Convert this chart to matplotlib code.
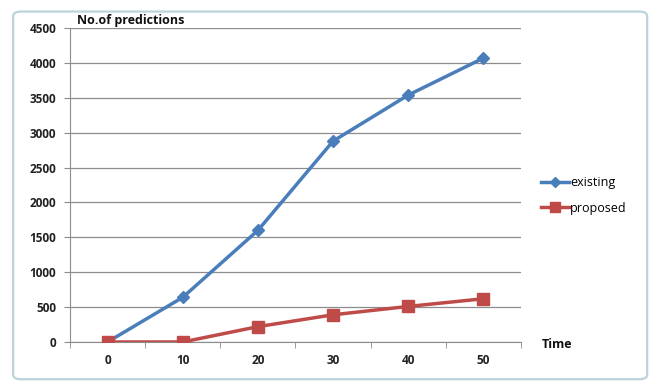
import matplotlib
matplotlib.use("Agg")
import matplotlib.pyplot as plt
from matplotlib.patches import FancyBboxPatch
import numpy as np

plt.rcParams["font.family"] = ["Open Sans", "DejaVu Sans"]

time_labels = ["0", "10", "20", "30", "40", "50"]
existing = [0, 640, 1600, 2880, 3540, 4070]
proposed = [0, 0, 220, 390, 510, 620]

BLUE = "#4A7EBB"
RED = "#BE4B48"
GRID = "#8C8C8C"

fig = plt.figure(figsize=(6.57, 3.85), dpi=100)
fig.patch.set_facecolor("white")

# chart frame
frame = FancyBboxPatch((0.02, 0.015), 0.965, 0.955, boxstyle="round,pad=0,rounding_size=0.012",
                       transform=fig.transFigure, facecolor="none", edgecolor="#BCD3DB",
                       linewidth=1.6, zorder=-1)
fig.patches.append(frame)

ax = fig.add_axes([0.1065, 0.1117, 0.6865, 0.8153])
ax.patch.set_alpha(0)
x = np.arange(len(time_labels))

ax.plot(x, existing, color=BLUE, linewidth=2.5, marker="D", markersize=6, zorder=4,
        label="existing")
ax.plot(x, proposed, color=RED, linewidth=2.5, marker="s", markersize=8.5, zorder=4,
        label="proposed")

ax.set_xlim(-0.5, len(time_labels) - 0.5)
ax.set_ylim(0, 4500)
ax.set_yticks(np.arange(0, 4501, 500))
ax.set_xticks(x)
ax.set_xticklabels(time_labels)
ax.set_xticks(np.arange(-0.5, len(time_labels)), minor=True)
ax.tick_params(axis="x", which="major", length=0, pad=9)
ax.tick_params(axis="x", which="minor", length=4, color=GRID, direction="out")
ax.tick_params(axis="y", length=4, color=GRID, pad=6)
for lab in ax.get_xticklabels() + ax.get_yticklabels():
    lab.set_fontweight("bold")
    lab.set_fontsize(8.5)
    lab.set_color("#222222")

ax.grid(axis="y", color=GRID, linewidth=0.9, zorder=0)
for side in ["top", "right"]:
    ax.spines[side].set_visible(False)
ax.spines["left"].set_color(GRID)
ax.spines["bottom"].set_color(GRID)

fig.text(0.117, 0.947, "No.of predictions", fontsize=9, fontweight="bold", va="center",
         ha="left", color="#111111")
fig.text(0.824, 0.106, "Time", fontsize=9, fontweight="bold", va="center", ha="left",
         color="#111111")

ax.legend(loc="center left", bbox_to_anchor=(1.02, 0.467), frameon=False, fontsize=9,
          handlelength=2.2, handletextpad=0.1, labelspacing=1.0, markerscale=0.85)

fig.savefig("out.png", dpi=100, facecolor="white")
